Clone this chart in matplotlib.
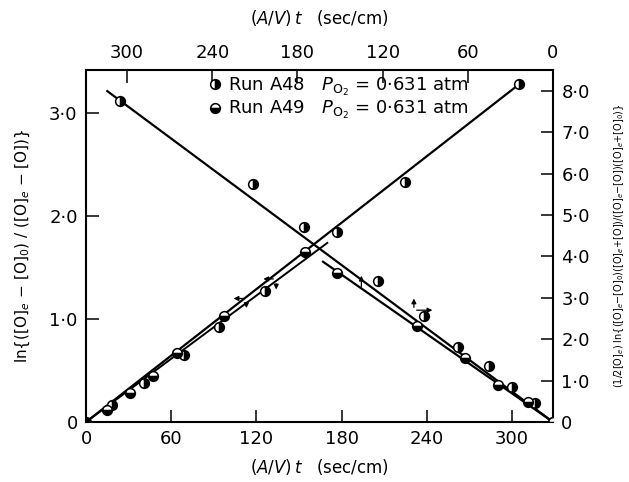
import matplotlib
matplotlib.use("Agg")
import matplotlib.pyplot as plt
from matplotlib.lines import Line2D

# --- data --------------------------------------------------------------------
# rising set: bottom axis (A/V)t vs left axis ln{...}
a48_rise_x = [0, 18.4, 41, 69, 94, 126, 177, 225, 305]
a48_rise_y = [0, 0.17, 0.38, 0.65, 0.92, 1.27, 1.85, 2.33, 3.28]
a49_rise_x = [14.8, 31, 47, 64, 97, 154]
a49_rise_y = [0.12, 0.28, 0.45, 0.67, 1.03, 1.65]
rise_fit_x = [0, 305]
rise_fit_y = [0, 3.28]
rise_fit2_x = [0, 170]
rise_fit2_y = [0, 1.74]

# falling set: top axis (A/V)t vs right axis
a48_fall_x = [305, 211, 175.5, 123.5, 91, 67, 45, 29, 13, 0]
a48_fall_y = [7.75, 5.74, 4.70, 3.41, 2.57, 1.82, 1.36, 0.85, 0.46, 0]
a49_fall_x = [152, 95.5, 62, 38.6, 17.5, 0]
a49_fall_y = [3.61, 2.32, 1.55, 0.90, 0.48, 0]
fall_fit_x = [314, 0]
fall_fit_y = [7.99, 0]
fall_fit2_x = [162, 0]
fall_fit2_y = [3.87, 0]

x_ticks = [0, 60, 120, 180, 240, 300]
left_ticks = [0, 1, 2, 3]
left_labels = ["0", "1·0", "2·0", "3·0"]
right_ticks = [0, 1, 2, 3, 4, 5, 6, 7, 8]
right_labels = ["0", "1·0", "2·0", "3·0", "4·0", "5·0", "6·0", "7·0", "8·0"]

XMAX = 329
plt.rcParams["font.family"] = ["DejaVu Sans"]
plt.rcParams["mathtext.fontset"] = "dejavusans"

fig = plt.figure(figsize=(6.29, 4.82), dpi=100)
pos = [86 / 629, 1 - 422 / 482, (553 - 86) / 629, (422 - 70) / 482]
ax = fig.add_axes(pos)
ax2 = fig.add_axes(pos, frameon=False)

mk = dict(marker="o", markersize=7, markeredgecolor="black", markeredgewidth=1.1,
          markerfacecolor="black", markerfacecoloralt="white", linestyle="none", zorder=3)
a48_style = dict(mk, fillstyle="right")
a49_style = dict(mk, fillstyle="bottom")

# rising lines and points
ax.plot(rise_fit_x, rise_fit_y, color="black", lw=1.6)
ax.plot(rise_fit2_x, rise_fit2_y, color="black", lw=1.4)
ax.plot(a48_rise_x, a48_rise_y, **a48_style)
ax.plot(a49_rise_x, a49_rise_y, **a49_style)

ax.set_xlim(0, XMAX)
ax.set_ylim(0, 3.42)
ax.set_xticks(x_ticks)
ax.set_xticklabels([str(v) for v in x_ticks])
ax.set_yticks(left_ticks)
ax.set_yticklabels(left_labels)
ax.tick_params(direction="in", length=9, width=1.1, labelsize=13, pad=6)
for s in ax.spines.values():
    s.set_linewidth(1.5)
ax.set_xlabel(r"$(A/V)\,t$   (sec/cm)", fontsize=12, labelpad=6)
ax.set_ylabel(r"ln{([O]$_e$ $-$ [O]$_0$) / ([O]$_e$ $-$ [O])}", fontsize=11, labelpad=12)

# falling lines and points
ax2.plot(fall_fit_x, fall_fit_y, color="black", lw=1.6)
ax2.plot(fall_fit2_x, fall_fit2_y, color="black", lw=1.6)
ax2.plot(a48_fall_x, a48_fall_y, **a48_style)
ax2.plot(a49_fall_x, a49_fall_y, **a49_style)

ax2.set_xlim(XMAX, 0)
ax2.set_ylim(0, 8.5)
ax2.xaxis.tick_top()
ax2.xaxis.set_label_position("top")
ax2.yaxis.tick_right()
ax2.yaxis.set_label_position("right")
ax2.set_xticks(x_ticks)
ax2.set_xticklabels([str(v) for v in x_ticks])
ax2.set_yticks(right_ticks)
ax2.set_yticklabels(right_labels)
ax2.tick_params(direction="in", length=9, width=1.1, labelsize=13, pad=6)
ax2.set_xlabel(r"$(A/V)\,t$   (sec/cm)", fontsize=12, labelpad=14)
ax2.set_ylabel(r"(1/2[O]$_e$) ln{([O]$_e$$-$[O]$_0$)([O]$_e$+[O])/([O]$_e$$-$[O])([O]$_e$+[O]$_0$)}",
               fontsize=7, labelpad=16, rotation=90)

# direction arrows (axis hints)
arw = dict(arrowstyle="-|>", color="black", lw=0.9, mutation_scale=7)
ax.annotate("", xy=(102, 1.20), xytext=(113, 1.20), arrowprops=arw)
ax.annotate("", xy=(113, 1.08), xytext=(113, 1.18), arrowprops=arw)
ax.annotate("", xy=(123, 1.39), xytext=(134, 1.39), arrowprops=arw)
ax.annotate("", xy=(134, 1.26), xytext=(134, 1.37), arrowprops=arw)
ax2.annotate("", xy=(135, 3.60), xytext=(135, 3.20), arrowprops=arw)
ax2.annotate("", xy=(98, 3.05), xytext=(98, 2.70), arrowprops=arw)
ax2.annotate("", xy=(83, 2.70), xytext=(98, 2.70), arrowprops=arw)

handles = [Line2D([], [], **a48_style), Line2D([], [], **a49_style)]
labels = [r"Run A48   $P_{\mathrm{O}_2}$ = 0·631 atm", r"Run A49   $P_{\mathrm{O}_2}$ = 0·631 atm"]
ax2.legend(handles, labels, loc="upper center", bbox_to_anchor=(0.54, 1.005), frameon=False,
           fontsize=13, handletextpad=0.3, borderaxespad=0.0, labelspacing=0.1,
           handlelength=0.8)

fig.savefig("out.png", dpi=100)
